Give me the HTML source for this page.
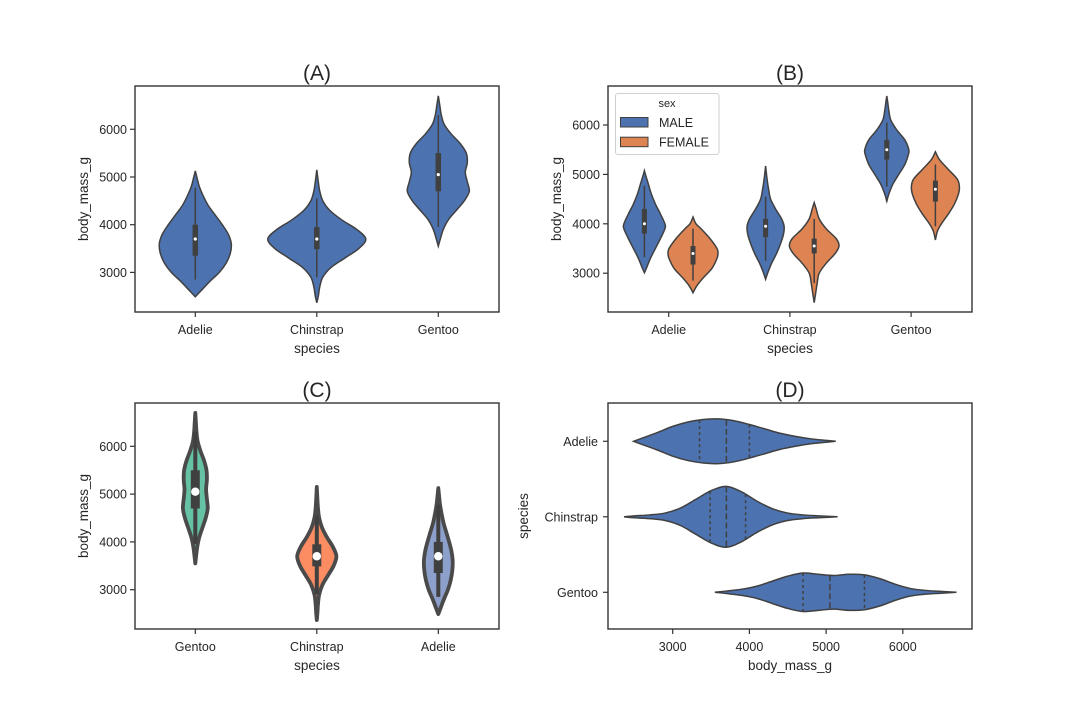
<!DOCTYPE html>
<html><head><meta charset="utf-8"><style>
html,body{margin:0;padding:0;background:#fff;}
svg{display:block;font-family:"Liberation Sans","DejaVu Sans",sans-serif;}
</style></head><body>
<svg id="fig" width="1080" height="720" viewBox="0 0 1080 720" xmlns="http://www.w3.org/2000/svg"></svg>
<script>
// ---------- data ----------
const speciesOrder = ["Adelie","Chinstrap","Gentoo"];
const speciesOrderC = ["Gentoo","Chinstrap","Adelie"];
const yTicks = [3000,4000,5000,6000];
const xTicksD = [3000,4000,5000,6000];
// densities (half-widths, px at 121.5px category spacing)
const adelieVals = [2490,2600,2800,3000,3200,3400,3600,3800,4000,4200,4400,4600,4800,5000,5126];
const adelieDens = [0,5,14,24,31,35,36,33,27,20,13,8,4,1.5,0];
const chinVals = [2365,2500,2700,2900,3100,3300,3500,3700,3900,4100,4300,4500,4700,4900,5150];
const chinDens = [0,1.5,3,6,14,28,42,49,40,25,13,6,3,1.5,0];
const gentooVals = [3550,3700,3900,4100,4300,4500,4700,4900,5100,5300,5500,5700,5900,6100,6300,6500,6700];
const gentooDens = [0,2,5,10,18,26,31,29,27,29,28,22,13,6,3,1.5,0];
// box stats: [whiskerLow, q1, median, q3, whiskerHigh]
const adelieBox = [2850,3350,3700,4000,4775];
const chinBox = [2900,3488,3700,3950,4550];
const gentooBox = [3950,4700,5050,5500,6300];
// panel B by sex (half-widths px in panel B)
const adMaleVals = [3010,3100,3300,3500,3700,3900,4000,4200,4400,4600,4800,5000,5075];
const adMaleDens = [0,2,6,11,16,20.5,20.5,16,11,7,4,1,0];
const adFemVals = [2605,2750,2900,3100,3300,3400,3500,3700,3900,4000,4138];
const adFemDens = [0,4,10,19,24,25,24,17,8,3,0];
const chMaleVals = [2877,3000,3200,3400,3600,3800,3950,4100,4300,4500,4700,4900,5170];
const chMaleDens = [0,2,6,11,15,18,18.5,16,10,5,3,1.5,0];
const chFemVals = [2403,2600,2800,3000,3200,3400,3550,3700,3900,4100,4300,4428];
const chFemDens = [0,1.5,3,5,12,21,24.8,22,12,5,2,0];
const geMaleVals = [4456,4600,4800,5000,5200,5400,5500,5700,5900,6100,6300,6450,6587];
const geMaleDens = [0,2,6,12,18,21.5,22,18,10,4,2,1,0];
const geFemVals = [3672,3850,4000,4200,4400,4600,4750,4900,5100,5300,5459];
const geFemDens = [0,2,6,13,19,23,24,22,13,4,0];
const adMaleBox = [3325,3800,4000,4300,4775];
const adFemBox = [2850,3175,3400,3550,3900];
const chMaleBox = [3250,3730,3950,4100,4550];
const chFemBox = [2800,3400,3550,3700,4100];
const geMaleBox = [4750,5300,5500,5700,6050];
const geFemBox = [3950,4450,4700,4875,5200];
const sexLabels = ["MALE","FEMALE"];

// ---------- helpers ----------
const NS="http://www.w3.org/2000/svg";
const fig=document.getElementById('fig');
function mk(tag,attrs,parent){const e=document.createElementNS(NS,tag);for(const k in attrs)e.setAttribute(k,attrs[k]);(parent||fig).appendChild(e);return e;}
function txt(s,attrs,parent){const e=mk('text',attrs,parent);e.textContent=s;return e;}
const BLUE="#4c72b0",ORANGE="#dd8452",EDGE="#404040",INK="#262626",SPINE="#333";

function smooth(pts){
  let d="";
  for(let i=0;i<pts.length-1;i++){
    const p0=pts[Math.max(i-1,0)],p1=pts[i],p2=pts[i+1],p3=pts[Math.min(i+2,pts.length-1)];
    const c1=[p1[0]+(p2[0]-p0[0])/6,p1[1]+(p2[1]-p0[1])/6];
    const c2=[p2[0]-(p3[0]-p1[0])/6,p2[1]-(p3[1]-p1[1])/6];
    d+="C"+c1[0].toFixed(2)+","+c1[1].toFixed(2)+" "+c2[0].toFixed(2)+","+c2[1].toFixed(2)+" "+p2[0].toFixed(2)+","+p2[1].toFixed(2);
  }
  return d;
}
function vPath(vals,dens,c,scale,vmap,horizontal){
  let a=[],b=[];
  for(let i=0;i<vals.length;i++){
    const p=vmap(vals[i]),w=dens[i]*scale;
    if(horizontal){a.push([p,c-w]);b.push([p,c+w]);}
    else{a.push([c+w,p]);b.push([c-w,p]);}
  }
  b.reverse();
  return "M"+a[0][0].toFixed(2)+","+a[0][1].toFixed(2)+smooth(a)+"L"+b[0][0].toFixed(2)+","+b[0][1].toFixed(2)+smooth(b)+"Z";
}
function densAt(vals,dens,v){
  for(let i=0;i<vals.length-1;i++){if(v>=vals[i]&&v<=vals[i+1]){const t=(v-vals[i])/(vals[i+1]-vals[i]);return dens[i]+t*(dens[i+1]-dens[i]);}}
  return 0;
}
function drawBox(g,c,box,vmap,bw,ww,dr){
  const w=mk('line',{x1:c,x2:c,y1:vmap(box[0]),y2:vmap(box[4]),stroke:EDGE,'stroke-width':ww},g);
  
  
  const b=mk('line',{x1:c,x2:c,y1:vmap(box[1]),y2:vmap(box[3]),stroke:EDGE,'stroke-width':bw},g);
  
  
  const d=mk('circle',{cx:c,cy:vmap(box[2]),r:dr,fill:'#fff'},g);
  
  
}
function frame(p,title,name){
  const g=mk('g',{});
  
  
  const r=mk('rect',{x:p.x0,y:p.y0,width:p.x1-p.x0,height:p.y1-p.y0,fill:'none',stroke:SPINE,'stroke-width':1.4});
  
  
  const t=txt(title,{x:(p.x0+p.x1)/2,y:p.y0-6,'text-anchor':'middle','font-size':21,fill:INK});
  
  
  return g;
}
function yAxisNum(p,g,label){
  yTicks.forEach(v=>{const y=p.vy(v);
    mk('line',{x1:p.x0-5,x2:p.x0,y1:y,y2:y,stroke:SPINE,'stroke-width':1.2},g);
    const t=txt(v,{x:p.x0-8,y:y+4.5,'text-anchor':'end','font-size':12.5,fill:INK},g);
    
    
  });
  const yl=txt(label,{transform:`translate(${p.x0-47},${(p.y0+p.y1)/2}) rotate(-90)`,'text-anchor':'middle','font-size':13.5,fill:INK},g);
  
  
}
function xAxisCat(p,g,cats){
  cats.forEach((c,i)=>{const x=p.cx(i);
    mk('line',{x1:x,x2:x,y1:p.y1,y2:p.y1+5,stroke:SPINE,'stroke-width':1.2},g);
    const t=txt(c,{x:x,y:p.y1+22,'text-anchor':'middle','font-size':12.5,fill:INK},g);
    
    
  });
  const xl=txt('species',{x:(p.x0+p.x1)/2,y:p.y1+41,'text-anchor':'middle','font-size':13.5,fill:INK},g);
  
  
}
const sp={Adelie:[adelieVals,adelieDens,adelieBox],Chinstrap:[chinVals,chinDens,chinBox],Gentoo:[gentooVals,gentooDens,gentooBox]};

// ---------- Panel A ----------
const PA={x0:135,x1:499,y0:86,y1:312,vy:v=>129.3+(6000-v)*0.0477,cx:i=>195.3+i*121.5};
const gA=frame(PA,'(A)','panel-a');
speciesOrder.forEach((s,i)=>{const d=sp[s];
  const v=mk('path',{d:vPath(d[0],d[1],PA.cx(i),1,PA.vy,false),fill:BLUE,stroke:EDGE,'stroke-width':1.5},gA);
  
  
  drawBox(gA,PA.cx(i),d[2],PA.vy,5.5,1.5,1.6);
});
yAxisNum(PA,gA,'body_mass_g');xAxisCat(PA,gA,speciesOrder);

// ---------- Panel B ----------
const PB={x0:608,x1:972,y0:86,y1:312,vy:v=>125+(6000-v)*0.0494,cx:i=>668.7+i*121.2};
const gB=frame(PB,'(B)','panel-b');
const bSets=[[adMaleVals,adMaleDens,adMaleBox,adFemVals,adFemDens,adFemBox],[chMaleVals,chMaleDens,chMaleBox,chFemVals,chFemDens,chFemBox],[geMaleVals,geMaleDens,geMaleBox,geFemVals,geFemDens,geFemBox]];
bSets.forEach((s,i)=>{
  [[0,-24.3,BLUE,'male'],[3,24.3,ORANGE,'female']].forEach(o=>{
    const c=PB.cx(i)+o[1];
    const v=mk('path',{d:vPath(s[o[0]],s[o[0]+1],c,1,PB.vy,false),fill:o[2],stroke:EDGE,'stroke-width':1.5},gB);
    
    
    drawBox(gB,c,s[o[0]+2],PB.vy,5,1.5,1.5);
  });
});
yAxisNum(PB,gB,'body_mass_g');xAxisCat(PB,gB,speciesOrder);
const leg=mk('g',{},gB);


mk('rect',{x:615.5,y:93.5,width:103.5,height:61,rx:2.5,fill:'#fff','fill-opacity':0.85,stroke:'#d0d0d0','stroke-width':1},leg);
txt('sex',{x:667,y:107,'text-anchor':'middle','font-size':11,fill:INK},leg);
[BLUE,ORANGE].forEach((col,i)=>{
  const pr=mk('rect',{x:620.5,y:117.5+i*19.7,width:27.5,height:9.5,fill:col,stroke:EDGE,'stroke-width':1},leg);
  
  
  const lt=txt(sexLabels[i],{x:659,y:127+i*19.7,'font-size':12.5,fill:INK},leg);
  
  
});

// ---------- Panel C ----------
const PC={x0:135,x1:499,y0:403,y1:629,vy:v=>446.3+(6000-v)*0.0478,cx:i=>195.3+i*121.5};
const gC=frame(PC,'(C)','panel-c');
const cCols={Gentoo:"#66c2a5",Chinstrap:"#fc8d62",Adelie:"#8da0cb"};
speciesOrderC.forEach((s,i)=>{const d=sp[s];
  const v=mk('path',{d:vPath(d[0],d[1],PC.cx(i),0.4,PC.vy,false),fill:cCols[s],stroke:'#4a4a4a','stroke-width':3.8,'stroke-linejoin':'round'},gC);
  
  
  drawBox(gC,PC.cx(i),d[2],PC.vy,9,4,4.2);
});
yAxisNum(PC,gC,'body_mass_g');xAxisCat(PC,gC,speciesOrderC);

// ---------- Panel D ----------
const PD={x0:608,x1:972,y0:403,y1:629,vx:v=>672.7+(v-3000)*0.0767,cy:i=>441.3+i*75.5};
const gD=frame(PD,'(D)','panel-d');
const dScale=75.5/121.5;
speciesOrder.forEach((s,i)=>{const d=sp[s];const c=PD.cy(i);
  const v=mk('path',{d:vPath(d[0],d[1],c,dScale,PD.vx,true),fill:BLUE,stroke:EDGE,'stroke-width':1.5},gD);
  
  
  [1,2,3].forEach(k=>{const val=d[2][k];const w=densAt(d[0],d[1],val)*dScale;const x=PD.vx(val);
    const q=mk('line',{x1:x,x2:x,y1:c-w,y2:c+w,stroke:EDGE,'stroke-width':1.5,'stroke-dasharray':k===2?'6,3':'3,3'},gD);
    
    
  });
  mk('line',{x1:PD.x0-5,x2:PD.x0,y1:c,y2:c,stroke:SPINE,'stroke-width':1.2},gD);
  const t=txt(s,{x:PD.x0-10,y:c+4.5,'text-anchor':'end','font-size':12.5,fill:INK},gD);
  
  
});
xTicksD.forEach(v=>{const x=PD.vx(v);
  mk('line',{x1:x,x2:x,y1:PD.y1,y2:PD.y1+5,stroke:SPINE,'stroke-width':1.2},gD);
  const t=txt(v,{x:x,y:PD.y1+22,'text-anchor':'middle','font-size':12.5,fill:INK},gD);
  
  
});
const dxl=txt('body_mass_g',{x:(PD.x0+PD.x1)/2,y:PD.y1+41,'text-anchor':'middle','font-size':13.5,fill:INK},gD);


const dyl=txt('species',{transform:`translate(${PD.x0-80},${(PD.y0+PD.y1)/2}) rotate(-90)`,'text-anchor':'middle','font-size':13.5,fill:INK},gD);


</script>
</body></html>
